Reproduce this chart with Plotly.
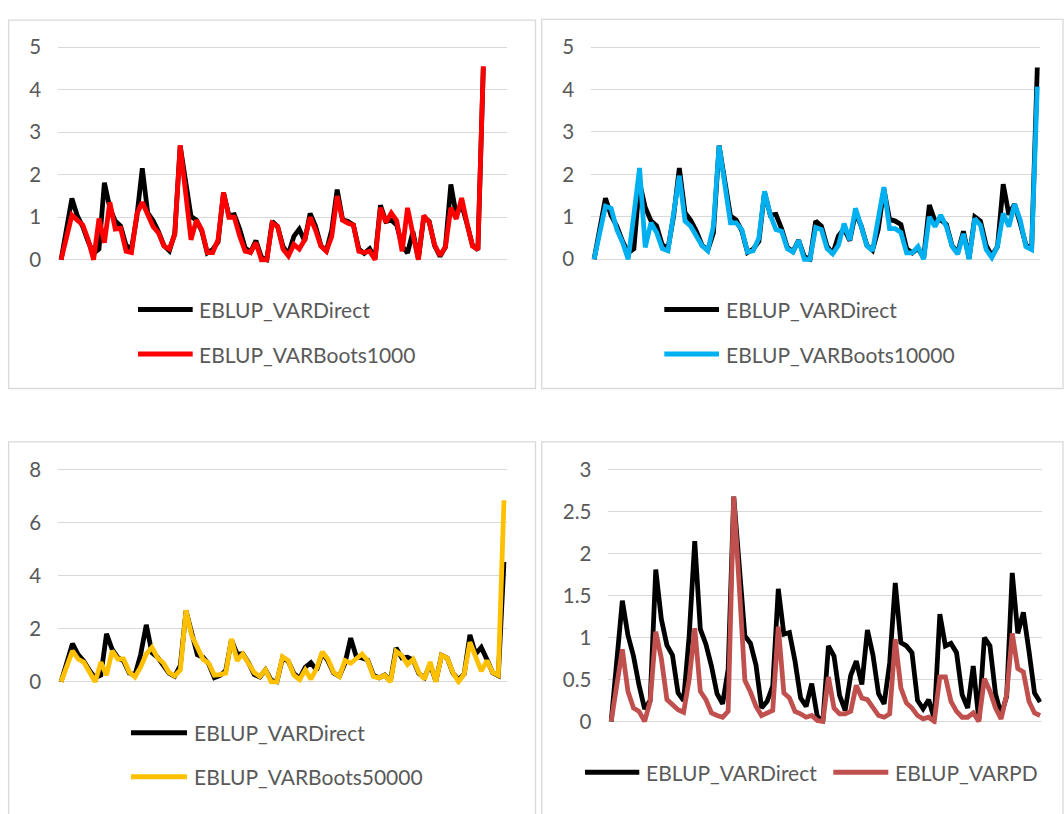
import plotly.graph_objects as go

W, H = 1064, 814

# ---------------- data ----------------
idx = list(range(79))

direct = [0, 0.75, 1.44, 1.03, 0.78, 0.43, 0.15, 0.25, 1.81, 1.22,
          0.91, 0.79, 0.34, 0.25, 1.02, 2.15, 1.1, 0.92, 0.66, 0.33,
          0.21, 0.62, 2.68, 1.85, 1.02, 0.93, 0.67, 0.16, 0.24, 0.42,
          1.58, 1.04, 1.06, 0.72, 0.28, 0.18, 0.45, 0.06, 0.0, 0.9,
          0.78, 0.31, 0.13, 0.55, 0.72, 0.44, 1.09, 0.79, 0.33, 0.21,
          0.7, 1.65, 0.94, 0.9, 0.82, 0.25, 0.15, 0.26, 0.03, 1.28,
          0.9, 0.93, 0.82, 0.32, 0.16, 0.66, 0.02, 1.0, 0.9, 0.33,
          0.08, 0.3, 1.77, 1.05, 1.3, 0.84, 0.34, 0.23, 4.52]

boots1000 = [0, 0.55, 1.05, 0.93, 0.82, 0.47, 0.0, 0.97, 0.4, 1.35,
             0.72, 0.74, 0.2, 0.17, 1.08, 1.35, 1.08, 0.78, 0.63, 0.32,
             0.25, 0.59, 2.69, 1.6, 0.47, 0.93, 0.7, 0.17, 0.17, 0.47,
             1.58, 1.0, 1.0, 0.55, 0.2, 0.17, 0.4, 0.0, 0.0, 0.86,
             0.78, 0.25, 0.09, 0.36, 0.25, 0.47, 1.0, 0.7, 0.32, 0.2,
             0.55, 1.5, 0.93, 0.86, 0.82, 0.2, 0.17, 0.2, 0.0, 1.22,
             0.88, 1.1, 0.92, 0.2, 1.22, 0.6, 0.0, 1.04, 0.88, 0.35,
             0.1, 0.3, 1.22, 0.96, 1.45, 0.85, 0.32, 0.24, 4.55]

boots10000 = [0, 0.6, 1.25, 1.2, 0.7, 0.4, 0.0, 1.05, 2.15, 0.28,
              0.86, 0.63, 0.25, 0.2, 1.0, 1.97, 0.9, 0.78, 0.55, 0.32,
              0.2, 0.78, 2.68, 1.75, 0.86, 0.86, 0.7, 0.17, 0.2, 0.5,
              1.6, 1.05, 0.7, 0.66, 0.25, 0.17, 0.45, 0.0, 0.0, 0.75,
              0.7, 0.25, 0.13, 0.33, 0.84, 0.45, 1.2, 0.78, 0.32, 0.2,
              0.93, 1.7, 0.72, 0.72, 0.63, 0.15, 0.15, 0.3, 0.0, 1.0,
              0.77, 1.04, 0.77, 0.3, 0.12, 0.6, 0.0, 0.96, 0.8, 0.23,
              0.04, 0.3, 1.08, 0.77, 1.3, 0.92, 0.3, 0.23, 4.07]

boots50000 = [0, 0.6, 1.17, 0.86, 0.74, 0.37, 0.0, 0.74, 0.25, 1.17,
              0.86, 0.86, 0.37, 0.18, 0.55, 1.05, 1.3, 0.9, 0.72, 0.35,
              0.22, 0.45, 2.7, 1.75, 1.3, 0.85, 0.7, 0.25, 0.27, 0.33,
              1.62, 0.8, 1.05, 0.7, 0.35, 0.2, 0.45, 0.0, 0.0, 0.95,
              0.8, 0.25, 0.08, 0.45, 0.1, 0.5, 1.13, 0.85, 0.35, 0.2,
              0.8, 0.7, 0.85, 1.05, 0.8, 0.2, 0.15, 0.25, 0.0, 1.15,
              1.0, 0.65, 0.85, 0.35, 0.1, 0.75, 0.0, 1.0, 0.9, 0.35,
              0.0, 0.3, 1.5, 0.9, 0.4, 0.8, 0.35, 0.25, 6.85]

# panel 4 shows the first 78 areas only
varpd = [0, 0.45, 0.86, 0.36, 0.16, 0.12, 0.0, 0.24, 1.07, 0.75,
         0.26, 0.2, 0.14, 0.11, 0.5, 1.11, 0.36, 0.26, 0.1, 0.07,
         0.05, 0.12, 2.68, 1.6, 0.49, 0.35, 0.18, 0.07, 0.1, 0.13,
         1.13, 0.34, 0.28, 0.12, 0.09, 0.05, 0.07, 0.01, 0.0, 0.53,
         0.16, 0.09, 0.09, 0.12, 0.43, 0.28, 0.26, 0.16, 0.07, 0.05,
         0.09, 0.98, 0.4, 0.22, 0.16, 0.07, 0.03, 0.05, 0.0, 0.53,
         0.53, 0.24, 0.12, 0.05, 0.05, 0.1, 0.0, 0.51, 0.36, 0.16,
         0.03, 0.32, 1.05, 0.63, 0.59, 0.24, 0.1, 0.07]

name_direct = "EBLUP_VARDirect"
names_other = ["EBLUP_VARBoots1000", "EBLUP_VARBoots10000",
               "EBLUP_VARBoots50000", "EBLUP_VARPD"]
yticks = [[0, 1, 2, 3, 4, 5], [0, 1, 2, 3, 4, 5], [0, 2, 4, 6, 8],
          [0, 0.5, 1, 1.5, 2, 2.5, 3]]

# ---------------- styling / layout constants ----------------
FONT = "Lato"
TXT = "#595959"
GRID = "#d9d9d9"
BLACK = "#000000"
COLS = ["#FF0000", "#00B0F0", "#FFC000", "#C0504D"]
LW = 4.8

# pixel geometry of each panel: x px of index 0, px per index, x range,
# y px of value 0, px per unit, y range
panels = [
    dict(x0=61.1, kx=5.413, xr=[-0.55, 82.4], y0=254.0, ky=43.6, yr=[-0.07, 5.03]),
    dict(x0=594.1, kx=5.682, xr=[-0.5, 78.5], y0=253.5, ky=43.5, yr=[-0.07, 5.03]),
    dict(x0=61.1, kx=5.678, xr=[-0.5, 78.5], y0=686.7, ky=27.18, yr=[-0.11, 8.05]),
    dict(x0=611.2, kx=5.57, xr=[-0.5, 77.3], y0=727.3, ky=86.0, yr=[-0.035, 3.02]),
]

def xdom(p):
    return [(p["x0"] + p["xr"][0] * p["kx"]) / W, (p["x0"] + p["xr"][1] * p["kx"]) / W]

def ydom(p):
    return [1 - (p["y0"] - p["yr"][0] * p["ky"]) / H, 1 - (p["y0"] - p["yr"][1] * p["ky"]) / H]

fig = go.Figure()

series = [boots1000, boots10000, boots50000, varpd]
for k in range(4):
    xa = "x" if k == 0 else f"x{k+1}"
    ya = "y" if k == 0 else f"y{k+1}"
    n = len(series[k])
    fig.add_trace(go.Scatter(x=idx[:n], y=direct[:n], mode="lines", name=name_direct,
                             line=dict(color=BLACK, width=LW), xaxis=xa, yaxis=ya,
                             showlegend=False))
    fig.add_trace(go.Scatter(x=idx[:n], y=series[k], mode="lines", name=names_other[k],
                             line=dict(color=COLS[k], width=LW), xaxis=xa, yaxis=ya,
                             showlegend=False))

layout = dict(width=W, height=H, margin=dict(l=0, r=0, t=0, b=0),
              paper_bgcolor="white", plot_bgcolor="white", showlegend=False,
              font=dict(family=FONT, size=20, color=TXT))
for k, p in enumerate(panels):
    sx = "xaxis" if k == 0 else f"xaxis{k+1}"
    sy = "yaxis" if k == 0 else f"yaxis{k+1}"
    ya = "y" if k == 0 else f"y{k+1}"
    xa = "x" if k == 0 else f"x{k+1}"
    layout[sx] = dict(domain=xdom(p), range=p["xr"], anchor=ya, showgrid=False,
                      zeroline=False, showticklabels=False, showline=False, fixedrange=True)
    layout[sy] = dict(domain=ydom(p), range=p["yr"], anchor=xa, tickmode="array",
                      tickvals=yticks[k], ticktext=[f"{v:g}" for v in yticks[k]],
                      showgrid=True, gridcolor=GRID, gridwidth=1.4, zeroline=False,
                      showline=False, ticks="", ticklabelstandoff=16,
                      tickfont=dict(family=FONT, size=20.5, color=TXT), fixedrange=True)
fig.update_layout(**layout)

# panel borders
boxes = [(8.6, 8.3, 535.5, 386.0), (541.7, 7.5, 1063.0, 386.0),
         (8.6, 440.7, 535.5, 830.0), (541.7, 440.7, 1063.0, 830.0)]
for (l, t, r, b) in boxes:
    fig.add_shape(type="rect", xref="paper", yref="paper", x0=l / W, x1=r / W,
                  y0=1 - b / H, y1=1 - t / H, line=dict(color=GRID, width=1.3),
                  fillcolor="rgba(0,0,0,0)", layer="below")

# legends (drawn as line samples + text)
legend_items = [
    (138.0, 192.7, 305.0, 197.3, BLACK, name_direct),
    (138.0, 192.7, 350.7, 197.3, COLS[0], names_other[0]),
    (664.3, 719.0, 305.0, 724.0, BLACK, name_direct),
    (664.3, 719.0, 350.7, 724.0, COLS[1], names_other[1]),
    (131.0, 187.0, 739.0, 192.0, BLACK, name_direct),
    (131.0, 187.0, 784.0, 192.0, COLS[2], names_other[2]),
    (585.0, 639.3, 779.3, 644.0, BLACK, name_direct),
    (833.3, 888.3, 779.3, 893.3, COLS[3], names_other[3]),
]
for (l0, l1, ly, tx, col, txt) in legend_items:
    fig.add_shape(type="line", xref="paper", yref="paper", x0=l0 / W, x1=l1 / W,
                  y0=1 - ly / H, y1=1 - ly / H, line=dict(color=col, width=5))
    fig.add_annotation(x=tx / W, y=1 - ly / H, xref="paper", yref="paper", text=txt,
                       showarrow=False, xanchor="left", yanchor="middle",
                       font=dict(family=FONT, size=21, color=TXT))

fig.write_html("out.html")
